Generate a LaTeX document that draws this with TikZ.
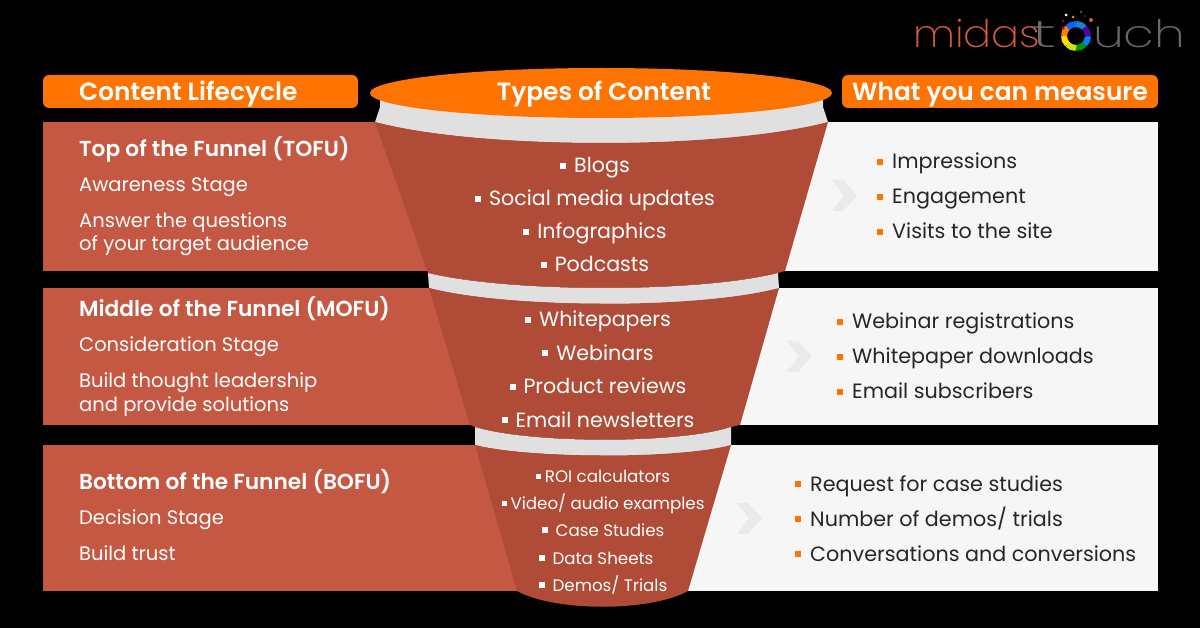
\documentclass[tikz,border=0pt]{standalone}
\usepackage{fontspec}
\usepackage{xcolor}
\setmainfont[BoldFont={Poppins SemiBold}]{Poppins}
\newfontfamily\logofont{Poppins ExtraLight}
\definecolor{bandred}{HTML}{C45843}
\definecolor{bodyred}{HTML}{AF4B37}
\definecolor{rimgray}{HTML}{E0E0E0}
\definecolor{paleband}{HTML}{F6F6F6}
\definecolor{chevgray}{HTML}{EAEAEA}
\definecolor{headorange}{HTML}{FF7300}
\definecolor{logored}{HTML}{D9593F}
\definecolor{loggray}{HTML}{6A6A6A}
\newcommand{\orangebox}{\textcolor{headorange}{\rule[0.17em]{6pt}{6pt}}\hspace{9pt}}
\newcommand{\whitebox}{\textcolor{white}{\rule[0.17em]{6pt}{6pt}}\hspace{8pt}}
\newcommand{\tinybox}{\textcolor{white}{\rule[0.2em]{5pt}{5pt}}\hspace{4pt}}
\tikzset{
  headtext/.style={font=\fontsize{24.9}{28}\selectfont\bfseries, text=white, inner sep=0pt, text height=22pt, text depth=4pt},
  stagehead/.style={font=\fontsize{21.7}{25}\selectfont\bfseries, text=white, inner sep=0pt, text height=20pt, text depth=4pt},
  stagetext/.style={font=\fontsize{19.5}{23}\selectfont, text=white, inner sep=0pt, text height=18pt, text depth=4pt},
  typetext/.style={font=\fontsize{20.6}{25}\selectfont, text=white, inner sep=0pt, text height=18pt, text depth=4pt},
  smalltype/.style={font=\fontsize{16.7}{20}\selectfont, text=white, inner sep=0pt, text height=16pt, text depth=4pt},
  measuretext/.style={font=\fontsize{20.7}{25}\selectfont, text=black!85, inner sep=0pt, text height=18pt, text depth=4pt},
  chevron/.style={fill=chevgray},
  logotext/.style={font=\fontsize{38}{40}\logofont, inner sep=0pt, text height=22pt, text depth=4pt}
}
\begin{document}
\begin{tikzpicture}[x=1pt,y=-1pt]
\useasboundingbox[fill=black] (0,0) rectangle (1200,628);

\fill[bandred] (43,122) rectangle (600,271);
\fill[bandred] (43,288) rectangle (600,425);
\fill[bandred] (43,445) rectangle (600,591);
\fill[paleband] (600,122) rectangle (1158,271);
\fill[paleband] (600,288) rectangle (1158,425);
\fill[paleband] (600,445) rectangle (1158,591);

\fill[headorange, rounded corners=6pt] (43,75) rectangle (358,108);
\fill[headorange, rounded corners=6pt] (842,75) rectangle (1158,108);

\fill[rimgray] (380,100) -- (380,107) -- (375,122) .. controls (480,150) and (720,150) .. (828,122) -- (823,107) -- (823,100) -- cycle;
\fill[bodyred] (375,122) .. controls (480,150) and (720,150) .. (828,122)
  -- (785,271) -- (778,273) .. controls (700,293) and (510,293) .. (428,273) -- cycle;

\fill[rimgray] (428,273) .. controls (510,293) and (700,293) .. (778,273) -- (779,288)
  .. controls (700,309) and (510,309) .. (429,288) -- cycle;
\fill[bodyred] (429,288) .. controls (510,309) and (700,309) .. (779,288)
  -- (740,425) -- (731,427) .. controls (680,444) and (530,444) .. (475,427) -- (470,425) -- cycle;

\fill[rimgray] (475,427) .. controls (530,444) and (680,444) .. (731,427) -- (731,445)
  .. controls (680,459) and (530,459) .. (475,445) -- cycle;
\fill[bodyred] (475,445) .. controls (530,459) and (680,459) .. (731,445)
  -- (688,591) .. controls (650,612) and (555,612) .. (517,591) -- cycle;

\fill[headorange] (601,93) ellipse [x radius=231, y radius=25];

\foreach \cx/\cy in {832/180, 787/341, 737/503}
  \fill[chevron] (\cx,\cy) -- ++(11,0) -- ++(14,15.5) -- ++(-14,15.5) -- ++(-11,0) -- ++(12,-15.5) -- cycle;

\node at (79,92) (lifecycle)[right, headtext]{Content Lifecycle};
\node at (604,92) (types)[headtext]{Types of Content};
\node at (1000,92) (measure)[headtext]{What you can measure};

\node at (79,149) (tofu)[right, stagehead]{Top of the Funnel (TOFU)};
\node at (79,185) (tofustage)[right, stagetext]{Awareness Stage};
\node at (79,221) (tofugoal)[right, stagetext]{Answer the questions};
\node at (79,244) (tofuaudience)[right, stagetext]{of your target audience};

\node at (79,309) (mofu)[right, stagehead]{Middle of the Funnel (MOFU)};
\node at (79,345) (mofustage)[right, stagetext]{Consideration Stage};
\node at (79,381) (mofugoal)[right, stagetext]{Build thought leadership};
\node at (79,404) (mofusolve)[right, stagetext]{and provide solutions};

\node at (79,481) (bofu)[right, stagehead]{Bottom of the Funnel (BOFU)};
\node at (79,517) (bofustage)[right, stagetext]{Decision Stage};
\node at (79,553) (bofugoal)[right, stagetext]{Build trust};

\node at (595,166) (blogs)[typetext]{\whitebox Blogs};
\node at (595,199) (social)[typetext]{\whitebox Social media updates};
\node at (595,232) (info)[typetext]{\whitebox Infographics};
\node at (595,265) (podcasts)[typetext]{\whitebox Podcasts};

\node at (598,320) (papers)[typetext]{\whitebox Whitepapers};
\node at (598,353) (webinars)[typetext]{\whitebox Webinars};
\node at (598,387) (reviews)[typetext]{\whitebox Product reviews};
\node at (598,420) (news)[typetext]{\whitebox Email newsletters};

\node at (603,476) (roi)[smalltype]{\tinybox ROI calculators};
\node at (603,503) (video)[smalltype]{\tinybox Video/ audio examples};
\node at (603,530) (cases)[smalltype]{\whitebox Case Studies};
\node at (596,558) (sheets)[smalltype]{\whitebox Data Sheets};
\node at (603,585) (demos)[smalltype]{\whitebox Demos/ Trials};

\node at (877,162) (impress)[right, measuretext]{\orangebox Impressions};
\node at (877,197) (engage)[right, measuretext]{\orangebox Engagement};
\node at (877,232) (visits)[right, measuretext]{\orangebox Visits to the site};

\node at (837,322) (regist)[right, measuretext]{\orangebox Webinar registrations};
\node at (837,357) (downl)[right, measuretext]{\orangebox Whitepaper downloads};
\node at (837,392) (subs)[right, measuretext]{\orangebox Email subscribers};

\node at (795,484) (request)[right, measuretext]{\orangebox Request for case studies};
\node at (795,519) (trials)[right, measuretext]{\orangebox Number of demos/ trials};
\node at (795,554) (convers)[right, measuretext]{\orangebox Conversations and conversions};

\node at (913,39) (logoa)[right, logotext, text=logored]{\scalebox{1.09}[1]{midas}};
\node at (1030,39) (logob)[right, logotext, text=loggray]{\scalebox{2}[1]{t}};
\node at (1093,39) (logoc)[right, logotext, text=loggray]{\scalebox{1.3}[1]{uch}};

\foreach \ang/\col in {0/blue!50!cyan, 45/green!60!black, 90/yellow!80!green, 135/yellow!80!orange, 180/orange, 225/blue!60!cyan, 270/cyan!70!blue, 315/violet!70!blue}
  \draw[\col, line width=6pt] (1076,36) ++(\ang:12) arc[start angle=\ang, end angle=\ang+46, radius=12];
\fill[white] (1066,15) circle (1.5);
\fill[orange] (1073,17) circle (1.5);
\fill[gray] (1081,12) circle (1);
\fill[red!60!black] (1085,16) circle (1.2);
\fill[logored] (1091,20) circle (2);
\fill[violet!70!red] (1063,21) circle (1.5);
\fill[red!80!black] (1063,28) circle (1.8);
\end{tikzpicture}
\end{document}
